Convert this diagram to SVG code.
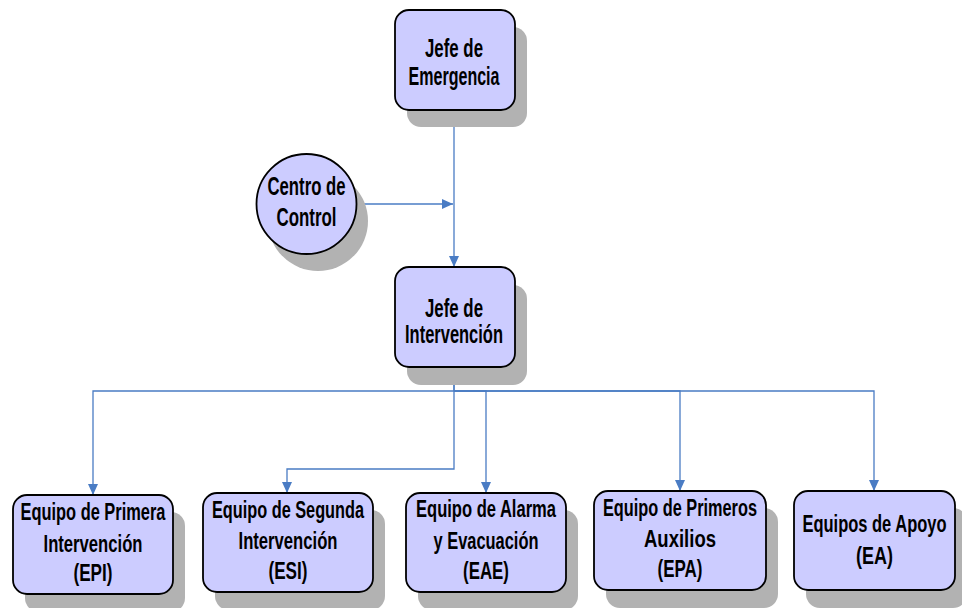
<svg xmlns="http://www.w3.org/2000/svg" width="962" height="608" viewBox="0 0 962 608">
<style>
.shadow{fill:#B2B2B2;stroke:none}
.box{fill:#CCCCFF;stroke:#000;stroke-width:1.8}
.t{font-family:"Liberation Sans Narrow","Arial Narrow","Liberation Sans",Arial,sans-serif;font-weight:bold;fill:#000;text-anchor:middle}
.top{font-size:25px}
.bot{font-size:23.5px}
.conn{fill:none;stroke:#4A7CC4;stroke-width:1.3}
</style>
<defs>
<marker id="arr" markerUnits="userSpaceOnUse" markerWidth="12" markerHeight="10" refX="11" refY="5" orient="auto">
<path d="M0,0 L11,5 L0,10 Z" fill="#4A7CC4"/>
</marker>
</defs>
<rect width="962" height="608" fill="#fff"/>
<g id="connectors">
<path class="conn" d="M454,110 V267" marker-end="url(#arr)"/>
<path class="conn" d="M356,204 H453" marker-end="url(#arr)"/>
<path class="conn" d="M454,367 V391 H93 V495" marker-end="url(#arr)"/>
<path class="conn" d="M454,367 V469 H287 V493" marker-end="url(#arr)"/>
<path class="conn" d="M454,391 H486 V493" marker-end="url(#arr)"/>
<path class="conn" d="M454,391 H680 V491" marker-end="url(#arr)"/>
<path class="conn" d="M454,391 H874 V491" marker-end="url(#arr)"/>
</g>
<g id="jefe-emergencia">
<rect class="shadow" x="407" y="27" width="120" height="100" rx="14"/>
<rect class="box" x="395" y="10" width="120" height="100" rx="14"/>
<text class="t top" x="454" y="57" textLength="58" lengthAdjust="spacingAndGlyphs">Jefe de</text>
<text class="t top" x="454" y="85" textLength="91" lengthAdjust="spacingAndGlyphs">Emergencia</text>
</g>
<g id="centro-control">
<circle class="shadow" cx="318" cy="221" r="50"/>
<circle class="box" cx="306.5" cy="204" r="50"/>
<text class="t top" x="306.5" y="195" textLength="78" lengthAdjust="spacingAndGlyphs">Centro de</text>
<text class="t top" x="306.5" y="226" textLength="60" lengthAdjust="spacingAndGlyphs">Control</text>
</g>
<g id="jefe-intervencion">
<rect class="shadow" x="407" y="285" width="120" height="100" rx="14"/>
<rect class="box" x="395" y="267" width="120" height="100" rx="14"/>
<text class="t top" x="454" y="317" textLength="58" lengthAdjust="spacingAndGlyphs">Jefe de</text>
<text class="t top" x="454" y="343" textLength="98" lengthAdjust="spacingAndGlyphs">Intervención</text>
</g>
<g id="epi">
<rect class="shadow" x="25" y="512" width="160" height="100" rx="14"/>
<rect class="box" x="13" y="495" width="160" height="99" rx="14"/>
<text class="t bot" x="93" y="520" textLength="145" lengthAdjust="spacingAndGlyphs">Equipo de Primera</text>
<text class="t bot" x="93" y="552" textLength="99" lengthAdjust="spacingAndGlyphs">Intervención</text>
<text class="t bot" x="93" y="581" textLength="39" lengthAdjust="spacingAndGlyphs">(EPI)</text>
</g>
<g id="esi">
<rect class="shadow" x="215" y="510" width="170" height="100" rx="14"/>
<rect class="box" x="203" y="493" width="170" height="99" rx="14"/>
<text class="t bot" x="288" y="518" textLength="152" lengthAdjust="spacingAndGlyphs">Equipo de Segunda</text>
<text class="t bot" x="288" y="549" textLength="99" lengthAdjust="spacingAndGlyphs">Intervención</text>
<text class="t bot" x="288" y="579" textLength="39" lengthAdjust="spacingAndGlyphs">(ESI)</text>
</g>
<g id="eae">
<rect class="shadow" x="418" y="510" width="160" height="100" rx="14"/>
<rect class="box" x="406" y="493" width="160" height="99" rx="14"/>
<text class="t bot" x="486" y="517" textLength="140" lengthAdjust="spacingAndGlyphs">Equipo de Alarma</text>
<text class="t bot" x="486" y="549" textLength="105" lengthAdjust="spacingAndGlyphs">y Evacuación</text>
<text class="t bot" x="486" y="579" textLength="46" lengthAdjust="spacingAndGlyphs">(EAE)</text>
</g>
<g id="epa">
<rect class="shadow" x="606" y="508" width="172" height="100" rx="14"/>
<rect class="box" x="594" y="491" width="172" height="99" rx="14"/>
<text class="t bot" x="680" y="516" textLength="154" lengthAdjust="spacingAndGlyphs">Equipo de Primeros</text>
<text class="t bot" x="680" y="547" textLength="72" lengthAdjust="spacingAndGlyphs">Auxilios</text>
<text class="t bot" x="680" y="577" textLength="45" lengthAdjust="spacingAndGlyphs">(EPA)</text>
</g>
<g id="ea">
<rect class="shadow" x="806" y="508" width="161" height="100" rx="14"/>
<rect class="box" x="794" y="491" width="161" height="99" rx="14"/>
<text class="t bot" x="874.5" y="532" textLength="144" lengthAdjust="spacingAndGlyphs">Equipos de Apoyo</text>
<text class="t bot" x="874.5" y="564" textLength="37" lengthAdjust="spacingAndGlyphs">(EA)</text>
</g>
</svg>
